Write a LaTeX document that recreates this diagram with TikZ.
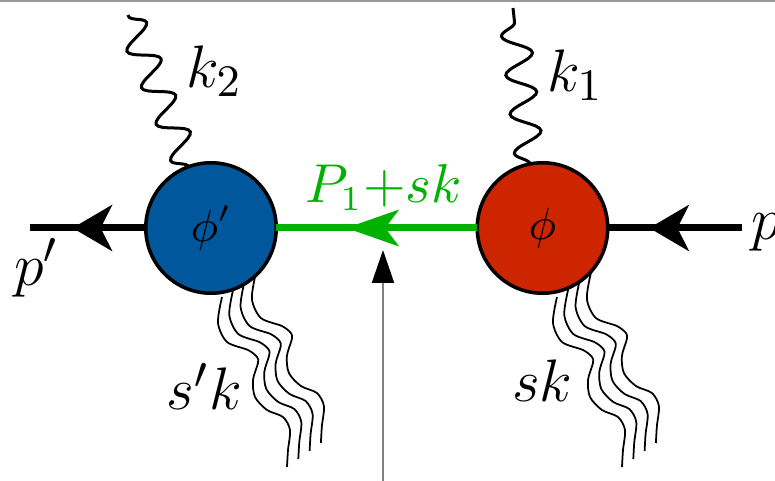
\documentclass[tikz,border=0pt]{standalone}
\usepackage{amsmath,amssymb,bm}
\usetikzlibrary{arrows.meta,positioning,decorations.pathmorphing,decorations.markings}
\definecolor{BlobBlue}{HTML}{00579C}
\definecolor{BlobRed}{HTML}{CC2500}
\definecolor{Flow}{HTML}{00B200}

\begin{document}
\begin{tikzpicture}[x=0.2pt,y=0.2pt,>=Latex,
    blob/.style={circle,draw,line width=0.7pt,minimum size=26.1pt,inner sep=0pt,outer sep=0pt,font=\fontsize{9}{10}\selectfont},
    lbl/.style={inner sep=0pt,font=\fontsize{12.4}{14}\selectfont},
    fermion/.style={line width=1.4pt,postaction=decorate,decoration={markings,
        mark=at position #1 with {\arrow{Stealth[length=8pt,width=9.4pt,inset=2.4pt,line width=0pt]}}}},
    flow/.style={Flow,line width=1.4pt,postaction=decorate,decoration={markings,
        mark=at position #1 with {\arrow{Stealth[length=10.6pt,width=7.4pt,inset=2.8pt,line width=0pt]}}}},
    photon/.style={line width=0.6pt,decorate,decoration={snake,segment length=7.85pt,amplitude=2.9pt}},
    softline/.style={line width=0.35pt},
    cutline/.style={draw=gray,line width=0.4pt,-{Triangle[length=6.6pt,width=4.4pt,color=black]}}]
    \useasboundingbox (0,0) rectangle (775,481);
    \draw[gray!80,line width=0.4pt] (0,480) -- (775,480);

    % soft radiation below each blob
    \foreach \dx in {0,335}
      \foreach \i in {0,...,3}
        \draw[softline,shift={(\dx+\i*11.3,\i*8)}] plot[smooth] coordinates {(222,184) (218,158) (227,139) (248,131) (257,124) (258,118) (253,101) (255,84) (267,71) (283,64) (290,51) (288,31) (287,14)};

    \node[blob,fill=BlobBlue] (phip) at (211,253) {$\phi'$};
    \node[blob,fill=BlobRed,right=40.2pt of phip] (phi) {$\phi$};

    \coordinate (pout) at (30,253);
    \coordinate (pin) at (742,253);
    \coordinate (k2end) at (128,466);
    \coordinate (k1end) at (513,473);
    \coordinate (cutlow) at (383,0);
    \coordinate (cuthigh) at (383,231);

    \draw[fermion=0.632] (phip.west) -- (pout);
    \draw[flow=0.652] (phi.west) -- (phip.east);
    \draw[fermion=0.69] (pin) -- (phi.east);
    \draw[photon] (phip.110) -- (k2end);
    \draw[photon] (phi.101) -- (k1end);
    \draw[cutline] (cutlow) -- (cuthigh);

    \node[lbl,anchor=base west] (k2lab) at (185,393) {$k_2$};
    \node[lbl,anchor=base west] (k1lab) at (546,389) {$k_1$};
    \node[lbl,anchor=base,text=Flow,font=\fontsize{10.5}{12}\selectfont] (flowlab) at (383.5,279) {$P_1{+}sk$};
    \node[lbl,anchor=base west] (poutlab) at (13,196) {$p'$};
    \node[lbl,anchor=base west] (pinlab) at (750,241) {$p$};
    \node[lbl,anchor=base west] (sklab2) at (166,71) {$s'k$};
    \node[lbl,anchor=base west] (sklab1) at (511,79) {$sk$};
  \end{tikzpicture}
\end{document}
